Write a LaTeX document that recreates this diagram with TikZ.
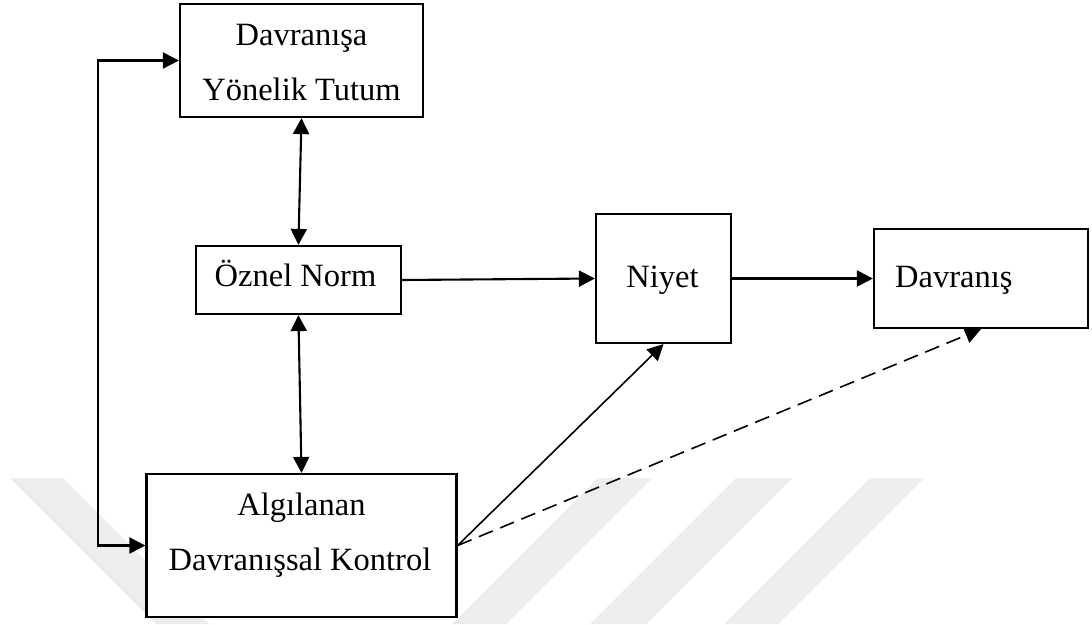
\documentclass[tikz,border=0pt]{standalone}
\usepackage{fontspec}
\setmainfont{Liberation Serif}
\usetikzlibrary{arrows.meta}

\begin{document}
\begin{tikzpicture}[x=1pt,y=-1pt,
  box/.style={draw, line width=2.2pt, fill=white, rectangle, inner sep=0pt},
  lbl/.style={inner sep=0pt, anchor=base, font=\fontsize{32.5}{54}\selectfont},
  tip/.style={-{Triangle[length=16pt,width=16pt]}},
  tips/.style={{Triangle[length=16pt,width=16pt]}-{Triangle[length=16pt,width=16pt]}},
  conn/.style={line width=2.1pt},
  thinconn/.style={line width=1.6pt},
  stripe/.style={fill=black!7, draw=none}]

\useasboundingbox (0,0) rectangle (1092,624);

% faint background stripes
\fill[stripe] (10,478) -- (63,478) -- (209,624) -- (156,624) -- cycle;
\fill[stripe] (598,478) -- (652,478) -- (506,624) -- (452,624) -- cycle;
\fill[stripe] (736,478) -- (792,478) -- (646,624) -- (590,624) -- cycle;
\fill[stripe] (870,478) -- (924,478) -- (778,624) -- (724,624) -- cycle;

% boxes
\node[box, minimum width=243pt, minimum height=113pt] (tutum) at (301.5,60.5) {};
\node[box, minimum width=204.7pt, minimum height=68pt] (norm) at (298.4,280) {};
\node[box, minimum width=310pt, minimum height=143pt] (alg) at (301.5,545.5) {};
\node[box, minimum width=135pt, minimum height=129pt] (niyet) at (663.5,278.5) {};
\node[box, minimum width=214pt, minimum height=99pt] (davr) at (981,278.5) {};

% labels
\node[lbl] (tutumA) at (301.5,45.7) {Davranışa};
\node[lbl] (tutumB) at (301.5,100) {Yönelik Tutum};
\node[lbl] (normT) at (295.5,286.7) {Öznel Norm};
\node[lbl] (niyetT) at (662.5,287.3) {Niyet};
\node[lbl, anchor=base west] (davrT) at (895,287) {Davranış};
\node[lbl] (algA) at (301.5,515) {Algılanan};
\node[lbl] (algB) at (300,570) {Davranışsal Kontrol};

% connectors
\coordinate (loop) at (98,0);
\draw[conn, tips] (tutum.west) -| (loop |- alg.west) -- (alg.west);
\draw[conn, tips] (tutum.south) -- (norm.north);
\draw[conn, tips] (norm.south) -- (alg.north);
\draw[conn, tip] (norm.east) -- (niyet.west);
\draw[conn, tip] (niyet.east) -- (davr.west);
\draw[thinconn, tip] (alg.east) -- (niyet.south);
\draw[thinconn, tip, dash pattern=on 15pt off 8pt] (alg.east) -- (davr.south);
\end{tikzpicture}
\end{document}
